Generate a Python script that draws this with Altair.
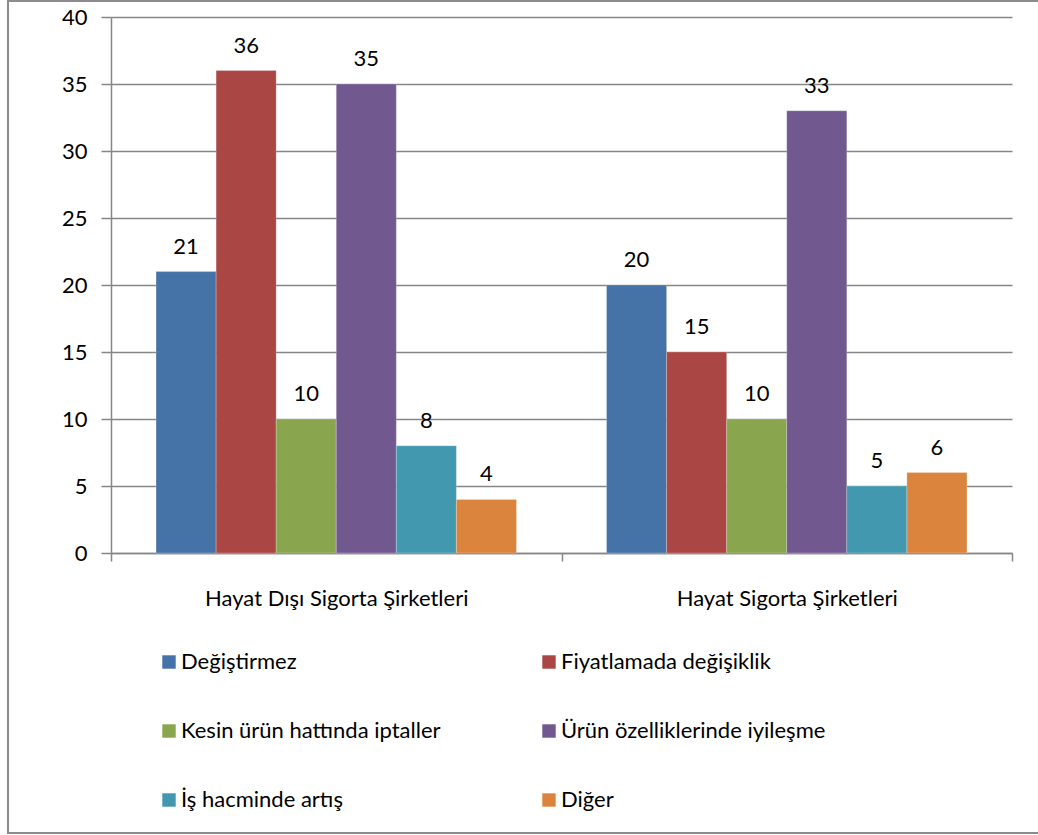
import altair as alt
import pandas as pd

categories = ["Hayat Dışı Sigorta Şirketleri", "Hayat Sigorta Şirketleri"]
series = [
    "Değiştirmez",
    "Fiyatlamada değişiklik",
    "Kesin ürün hattında iptaller",
    "Ürün özelliklerinde iyileşme",
    "İş hacminde artış",
    "Diğer",
]
values_hayat_disi = [21, 36, 10, 35, 8, 4]
values_hayat = [20, 15, 10, 33, 5, 6]
colors = ["#4572A7", "#AA4643", "#89A54E", "#71588F", "#4198AF", "#DB843D"]

rows = []
for s, v in zip(series, values_hayat_disi):
    rows.append({"grup": categories[0], "seri": s, "deger": v})
for s, v in zip(series, values_hayat):
    rows.append({"grup": categories[1], "seri": s, "deger": v})
df = pd.DataFrame(rows)

# legend fills column by column; reorder so it reads row by row
legend_order = [0, 2, 4, 1, 3, 5]
legend_domain = [series[i] for i in legend_order]
legend_range = [colors[i] for i in legend_order]

FONT = "Lato"
GRAY = "#868686"
FS = 22

x_enc = alt.X(
    "grup:N",
    sort=categories,
    scale=alt.Scale(paddingInner=0, paddingOuter=0),
    axis=alt.Axis(
        title=None,
        tickBand="extent",
        labelAngle=0,
        labelFontSize=FS,
        labelFont=FONT,
        labelColor="#000000",
        labelPadding=27,
        labelLimit=600,
        tickSize=8,
        tickColor=GRAY,
        domainColor=GRAY,
        domainWidth=1.5,
        tickWidth=1.5,
        grid=False,
    ),
)
xoff_enc = alt.XOffset(
    "seri:N", sort=series, scale=alt.Scale(paddingInner=0, paddingOuter=0.75)
)
y_enc = alt.Y(
    "deger:Q",
    scale=alt.Scale(domain=[0, 40], nice=False),
    axis=alt.Axis(
        title=None,
        values=list(range(0, 41, 5)),
        labelFontSize=FS,
        labelFont=FONT,
        labelColor="#000000",
        labelPadding=14,
        tickSize=10,
        tickColor=GRAY,
        tickWidth=1.5,
        domainColor=GRAY,
        domainWidth=1.5,
        grid=True,
        gridColor=GRAY,
        gridWidth=1.5,
    ),
)

bars = alt.Chart(df).mark_bar(stroke="#ffffff", strokeWidth=0.4, strokeOpacity=0.6).encode(
    x=x_enc,
    xOffset=xoff_enc,
    y=y_enc,
    color=alt.Color(
        "seri:N",
        scale=alt.Scale(domain=legend_domain, range=legend_range),
        legend=alt.Legend(
            title=None,
            orient="none",
            legendX=47,
            legendY=634,
            columns=2,
            gridAlign="all",
            columnPadding=92,
            rowPadding=47,
            symbolType="square",
            symbolSize=180,
            symbolStrokeWidth=0,
            labelFont=FONT,
            labelFontSize=FS,
            labelColor="#000000",
            labelOffset=1,
            labelLimit=400,
        ),
    ),
)

labels = alt.Chart(df).mark_text(
    baseline="alphabetic", dy=-18, fontSize=FS, font=FONT, color="#000000"
).encode(
    x=alt.X("grup:N", sort=categories),
    xOffset=alt.XOffset("seri:N", sort=series),
    y="deger:Q",
    text="deger:Q",
)

frame = alt.Chart(pd.DataFrame({"k": [0]})).mark_rect(
    fill=None, stroke="#8c8c8c", strokeWidth=2
).encode(
    x=alt.value(-103),
    x2=alt.value(940),
    y=alt.value(-16),
    y2=alt.value(816),
)

chart = (
    alt.layer(frame, bars, labels)
    .properties(
        width=901,
        height=536,
        autosize=alt.AutoSizeParams(type="none"),
        padding={"left": 111, "top": 17, "right": 26, "bottom": 282},
        background="#ffffff",
    )
    .configure_view(stroke=None)
)

chart.save("out.html", embed_options={"renderer": "svg", "actions": False})
